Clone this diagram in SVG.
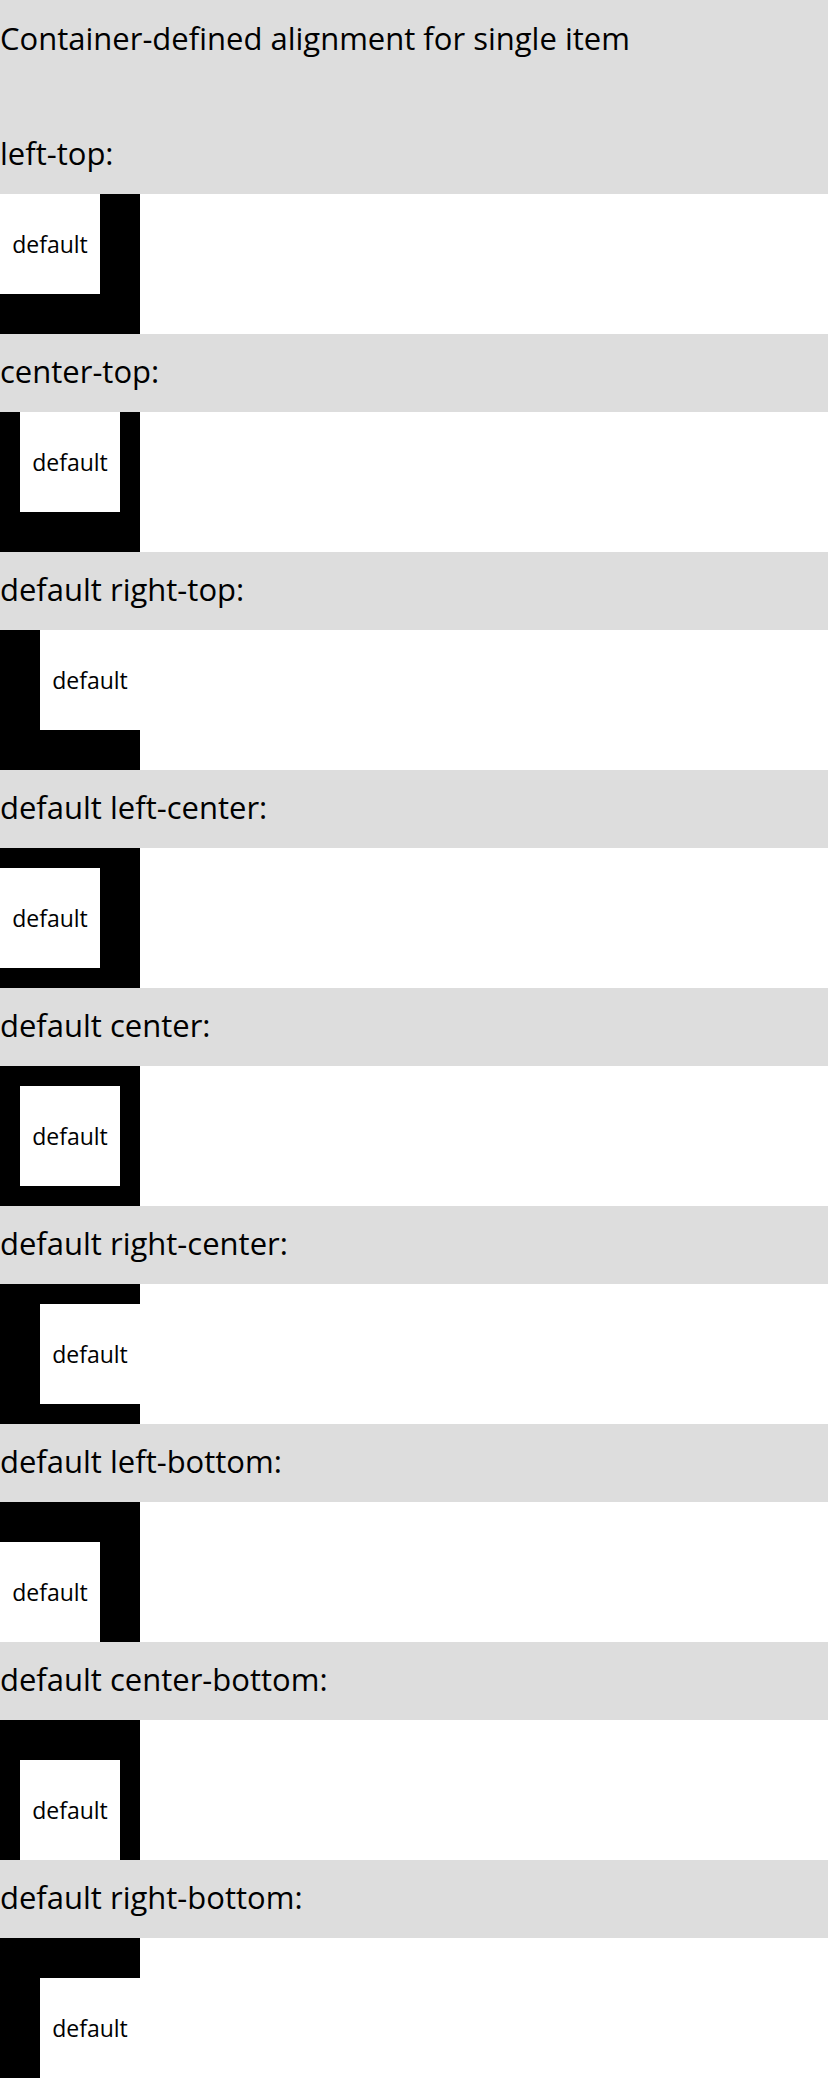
<svg xmlns="http://www.w3.org/2000/svg" width="828" height="2078" viewBox="0 0 828 2078">
<style>
.hd{fill:#dddddd}
.box{fill:#000}
.item{fill:#fff}
.h{font-family:"Open Sans","Noto Sans","Liberation Sans",sans-serif;font-size:31px;fill:#000}
.t{font-family:"Open Sans","Noto Sans","Liberation Sans",sans-serif;font-size:23px;fill:#000;text-anchor:middle}
</style>
<rect x="0" y="0" width="828" height="2078" fill="#fff"/>
<g id="title">
<rect class="hd" x="0" y="0" width="828" height="194"/>
<text class="h" x="0" y="50">Container-defined alignment for single item</text>
<text class="h" x="0" y="165">left-top:</text>
</g>
<g id="s1"><rect class="box" x="0" y="194" width="140" height="140"/><rect class="item" x="0" y="194" width="100" height="100"/><text class="t" x="50" y="253">default</text></g>
<g id="s2"><rect class="hd" x="0" y="334" width="828" height="78"/><text class="h" x="0" y="383">center-top:</text>
<rect class="box" x="0" y="412" width="140" height="140"/><rect class="item" x="20" y="412" width="100" height="100"/><text class="t" x="70" y="471">default</text></g>
<g id="s3"><rect class="hd" x="0" y="552" width="828" height="78"/><text class="h" x="0" y="601">default right-top:</text>
<rect class="box" x="0" y="630" width="140" height="140"/><rect class="item" x="40" y="630" width="100" height="100"/><text class="t" x="90" y="689">default</text></g>
<g id="s4"><rect class="hd" x="0" y="770" width="828" height="78"/><text class="h" x="0" y="819">default left-center:</text>
<rect class="box" x="0" y="848" width="140" height="140"/><rect class="item" x="0" y="868" width="100" height="100"/><text class="t" x="50" y="927">default</text></g>
<g id="s5"><rect class="hd" x="0" y="988" width="828" height="78"/><text class="h" x="0" y="1037">default center:</text>
<rect class="box" x="0" y="1066" width="140" height="140"/><rect class="item" x="20" y="1086" width="100" height="100"/><text class="t" x="70" y="1145">default</text></g>
<g id="s6"><rect class="hd" x="0" y="1206" width="828" height="78"/><text class="h" x="0" y="1255">default right-center:</text>
<rect class="box" x="0" y="1284" width="140" height="140"/><rect class="item" x="40" y="1304" width="100" height="100"/><text class="t" x="90" y="1363">default</text></g>
<g id="s7"><rect class="hd" x="0" y="1424" width="828" height="78"/><text class="h" x="0" y="1473">default left-bottom:</text>
<rect class="box" x="0" y="1502" width="140" height="140"/><rect class="item" x="0" y="1542" width="100" height="100"/><text class="t" x="50" y="1601">default</text></g>
<g id="s8"><rect class="hd" x="0" y="1642" width="828" height="78"/><text class="h" x="0" y="1691">default center-bottom:</text>
<rect class="box" x="0" y="1720" width="140" height="140"/><rect class="item" x="20" y="1760" width="100" height="100"/><text class="t" x="70" y="1819">default</text></g>
<g id="s9"><rect class="hd" x="0" y="1860" width="828" height="78"/><text class="h" x="0" y="1909">default right-bottom:</text>
<rect class="box" x="0" y="1938" width="140" height="140"/><rect class="item" x="40" y="1978" width="100" height="100"/><text class="t" x="90" y="2037">default</text></g>
<g id="connectors"/>
</svg>
